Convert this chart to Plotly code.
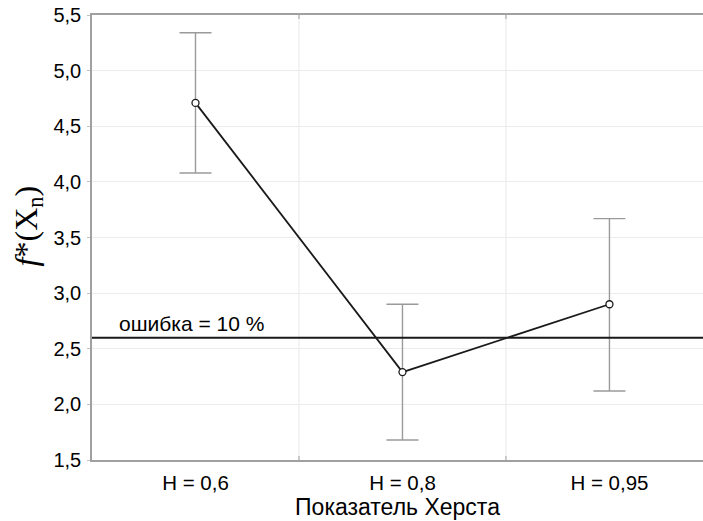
import plotly.graph_objects as go

categories = ["H = 0,6", "H = 0,8", "H = 0,95"]
means = [4.71, 2.29, 2.90]
upper = [5.34, 2.90, 3.67]
lower = [4.08, 1.68, 2.12]
error_level = 2.6
error_label = "ошибка = 10 %"
y_ticks = [1.5, 2.0, 2.5, 3.0, 3.5, 4.0, 4.5, 5.0, 5.5]
y_ticktext = [f"{v:.1f}".replace(".", ",") for v in y_ticks]

x = list(range(len(categories)))
boundaries = [i + 0.5 for i in x[:-1]]
err_plus = [u - m for u, m in zip(upper, means)]
err_minus = [m - l for m, l in zip(means, lower)]

fig = go.Figure()
# error bars
fig.add_trace(go.Scatter(
    x=x, y=means, mode="markers",
    marker=dict(size=1, color="rgba(0,0,0,0)"),
    error_y=dict(type="data", symmetric=False, array=err_plus, arrayminus=err_minus,
                 color="#9a9a9a", thickness=1.4, width=16),
    showlegend=False, hoverinfo="skip"))
# line with markers
fig.add_trace(go.Scatter(
    x=x, y=means, mode="lines+markers",
    line=dict(color="#1a1a1a", width=1.8),
    marker=dict(size=7, color="white", line=dict(color="#1a1a1a", width=1.3)),
    showlegend=False))

for b in boundaries:
    fig.add_shape(type="line", xref="x", x0=b, x1=b, yref="paper", y0=0, y1=1,
                  line=dict(color="#e8e8e8", width=1), layer="below")
    fig.add_shape(type="line", xref="x", x0=b, x1=b, yref="paper", y0=0, y1=0.009,
                  line=dict(color="#a0a0a0", width=1))
    fig.add_shape(type="line", xref="x", x0=b, x1=b, yref="paper", y0=0.991, y1=1,
                  line=dict(color="#a0a0a0", width=1))

fig.add_shape(type="line", xref="paper", x0=0, x1=1, yref="y", y0=error_level, y1=error_level,
              line=dict(color="#1a1a1a", width=2))
fig.add_annotation(xref="paper", x=0.041, xanchor="left", yref="y", y=error_level,
                   yanchor="bottom", yshift=1, text=error_label, showarrow=False,
                   font=dict(size=21, color="black", family="Liberation Sans, Arial"))
fig.add_annotation(xref="paper", x=0, xshift=-64, xanchor="center", yref="paper", y=0.525,
                   yanchor="middle", textangle=-90, showarrow=False,
                   text="<i>f</i>*(X<sub>n</sub>)",
                   font=dict(size=32, color="black", family="Liberation Serif, Times New Roman"))

fig.update_layout(
    width=703, height=521,
    margin=dict(l=92, r=0, t=15, b=61),
    paper_bgcolor="white", plot_bgcolor="white",
    font=dict(family="Liberation Sans, Arial", size=20, color="black"),
    xaxis=dict(
        range=[-0.5, 2.452], tickvals=x, ticktext=categories, showgrid=False,
        ticks="", zeroline=False, showline=True, linecolor="#a0a0a0", linewidth=1.5,
        mirror=True, automargin=False, ticklabelstandoff=4,
        title=dict(text="Показатель Херста", font=dict(size=23), standoff=5),
        tickfont=dict(size=20.5),
    ),
    yaxis=dict(
        range=[1.5, 5.5], tickvals=y_ticks, ticktext=y_ticktext, showgrid=True,
        gridcolor="#ececec", gridwidth=1, zeroline=False, showline=True, automargin=False,
        linecolor="#a0a0a0", linewidth=1.5, ticks="outside", ticklen=3, ticklabelstandoff=2,
        tickcolor="#c0c0c0", tickfont=dict(size=20),
    ),
)

fig.write_html("out.html", config={"displayModeBar": False},
               post_script="document.body.style.margin='0';document.body.style.overflow='hidden';")
